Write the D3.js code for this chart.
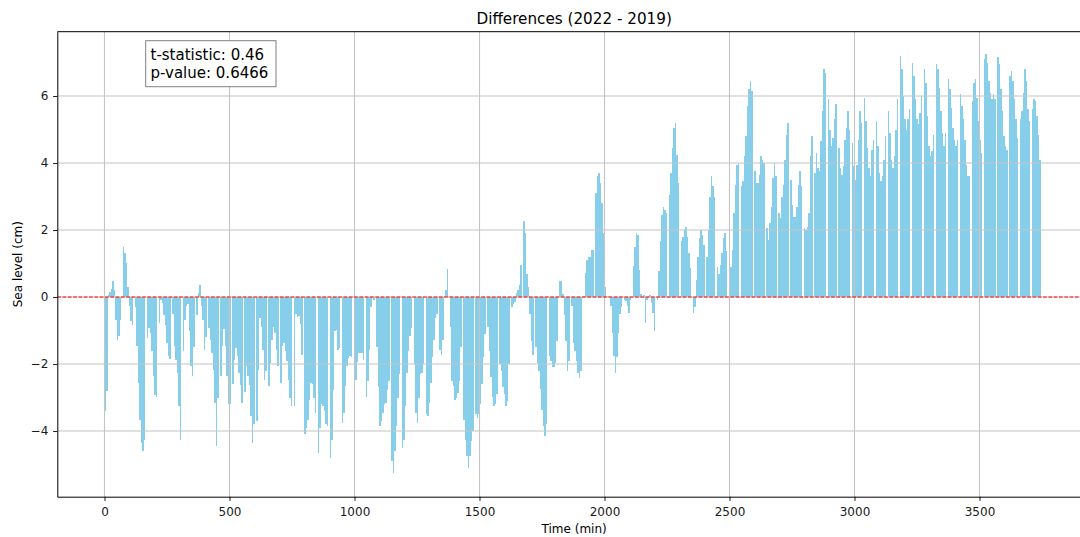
<!DOCTYPE html>
<html>
<head>
<meta charset="utf-8">
<script src="https://cdn.jsdelivr.net/npm/d3@7"></script>
<style>
  body { margin: 0; background: #ffffff; }
  svg { display: block; font-family: "DejaVu Sans", sans-serif; }
</style>
</head>
<body>
<svg id="chart" width="1080" height="537"></svg>
<script>
// Sea-level difference (2022 minus 2019), in cm, sampled every STEP_MIN minutes.
// null = no record for that interval.
const STEP_MIN = 6;

const diffPart1 = [
  -3.4, -2.8, 0.05, 0.15, 0.24, 0.47, 0.2, -0.7, -1.27, -1.17, -0.68, null,
  1.49, 1.3, 1.03, 0.3, -0.28, -0.73, -0.83, null,
  -0.3, -1.47, -2.57, -3.66, -4.36, -4.6, -4.26, null,
  -1.22, -0.93, -1.07, -1.62, -2.37, -2.92, -2.97, null,
  -0.78, -0.08, -0.18, -0.53, -0.83, -1.37, -1.77, -1.85, null,
  -0.5, -1.47, -1.87, -2.27, -3.26, -4.26, null,
  -1.62, -0.68, -0.28, -0.2, -1.0, -2.07, -2.37, -1.5, null,
  -0.53, 0.12, 0.37, -0.28, -0.68, -1.57, -1.2, null,
  -0.93, -1.27, -1.67, -2.17, -3.16, -4.46, -3.0, null,
  -2.37, -1.47, -0.96, -1.47, -2.37, -3.2, -3.2, null,
  -2.6, -1.87, -1.52, -1.77, -2.27, -2.62, -3.16, null,
  -2.82, -2.07, -2.37, -2.62, -3.56, -4.36, -3.8, null,
  -3.7, -2.17, -0.63, -0.88, -1.57, -2.47, -2.2, null,
  -2.67, -1.97, -1.27, -0.88, -1.07, -1.57, -2.07, null,
  -2.57, -1.47, -1.37, -1.6, -1.9, -2.47, -3.0, -3.26, null,
  -3.26, -0.5, -0.6, -0.56, -0.8, -1.72, null,
  -4.1, -3.9, -3.66, -3.06, -2.57, -2.6, -3.0, -3.46, null,
  -4.66, -3.9, -3.2, -3.26, -3.4, -3.8, -3.86, null,
  -4.8, -4.26, -2.77, -1.02, -0.97, -1.57, -1.52, null
];

const diffPart2 = [
  -3.76, -3.46, -2.67, -2.07, -1.82, -1.77, -1.8, null,
  -3.26, -2.47, -1.95, -1.67, -1.67, -1.67, -1.87, null,
  -2.97, -2.5, -1.57, -0.3, 0.02, -0.1, null,
  -1.5, -2.7, -3.86, -3.7, -3.46, -3.2, -3.16, -2.77, -2.5, null,
  -4.9, -5.25, -4.6, -3.86, -3.0, -2.3, null,
  -4.5, -4.26, -3.26, -2.27, -1.6, -1.17, -0.93, null,
  -2.0, -3.46, -3.76, -3.0, -2.3, -2.27, -2.0, null,
  -3.5, -3.56, -3.16, -2.57, -1.8, -1.27, -0.63, -0.5, null,
  -1.57, -1.72, -1.27, 0.02, 0.22, 0.84, null,
  -0.9, -2.5, -2.67, -3.06, -3.0, -2.87, -2.5, -1.5, null,
  -3.66, -4.26, -4.76, -5.1, -4.76, -4.3, -4.0, null,
  -3.5, -3.6, -3.5, -3.2, -2.6, -1.8, -1.1, null,
  -0.9, -1.6, -2.4, -2.97, -3.26, -3.2, -2.9, null,
  -2.0, -2.2, -2.7, -2.9, -3.26, -3.1, -2.0, null,
  -0.3, -0.2, -0.15, 0.12, 0.2, 0.37, 0.97, null, 2.26, 1.9, 0.7, 0.3, -0.5, -1.32, -1.72, null,
  -1.5, -1.97, -2.2, -2.75, -3.36, -3.86, -4.16, -3.8, null,
  -1.77, -1.9, -2.1, -2.1, -1.97, -1.3, null, 0.47, 0.47, 0.1, -0.53, -1.32, -2.2, -1.9, null,
  -0.28, -1.37, -1.6, -1.9, -2.27, -2.42, -2.2, null
];

const diffPart3 = [
  0.02, 0.72, 1.1, 1.2, 1.2, 1.4, 1.4, null,
  3.1, 3.6, 3.7, 3.4, 2.8, 1.9, 0.3, null,
  0.02, null, -0.28, -1.07, -1.77, -2.27, -1.8, -1.07, -0.5, -0.3, null,
  -0.08, -0.12, -0.28, -0.48, -0.1, null, 0.92, 1.5, 1.9, 1.85, 0.8, 0.1, null,
  0.05, -0.78, -0.08, 0.02, 0.07, -0.18, -0.48, -1.02, null,
  -0.08, 0.77, 1.66, 2.46, 2.7, 2.6, 2.5, null,
  3.05, 3.7, 4.45, 5.05, 5.2, 4.25, 3.4, null,
  1.66, 1.8, 2.0, 2.1, 1.8, 1.3, 0.87, null,
  -0.48, -0.3, 0.5, 1.2, 1.76, 2.0, 1.86, 1.56, null,
  1.2, 2.0, 3.0, 3.6, 3.3, 3.0, null,
  0.9, 0.7, 0.96, 1.3, 1.76, 1.9, 1.36, null,
  0.3, 0.9, 1.4, 2.5, 3.35, 3.95, 4.0, null,
  3.3, 3.45, 4.2, 4.8, 5.7, 6.2, 6.45, 6.15, null,
  3.75, 3.4, 3.4, 3.65, 4.2, 4.1, 4.0, null,
  2.05, 1.7, 2.2, 2.7, 3.55, 4.0, 3.6, null,
  2.5, 2.35, 3.0, 3.35, 4.1, 4.85, 5.2, null,
  3.5, 2.75, 2.4, 2.4, 2.7, 3.35, 3.75, 3.3, null,
  2.05, 2.0, 2.1, 2.5, 4.2, 4.8, null
];

const diffPart4 = [
  3.7, 4.3, 3.85, 3.75, 4.65, 5.55, 6.8, 6.7, null,
  5.9, 5.0, 4.5, 4.75, 5.3, 5.75, null,
  4.45, 3.85, 3.65, 3.9, 4.7, 5.05, 5.55, 5.0, null,
  4.6, 3.9, 3.5, 3.95, 4.7, 5.55, 5.2, null,
  5.95, 5.25, 4.45, 3.85, 3.6, 4.4, 4.7, null,
  5.25, 4.5, 3.7, 3.45, 3.6, 4.1, 4.8, null,
  5.55, 4.9, 4.1, 3.85, 4.2, 5.0, 5.9, null,
  7.2, 6.8, 6.0, 5.3, 5.0, 5.3, 5.6, null,
  7.0, 6.6, 5.9, 5.3, 5.15, 5.5, 6.0, null,
  6.8, 6.4, 5.4, 4.5, 4.2, 4.35, 4.85, null,
  6.95, 6.8, 6.25, 5.55, 4.9, 4.5, 4.9, null,
  6.5, 6.2, 5.65, 5.05, 4.7, 4.5, 4.7, null,
  6.05, 5.7, 5.3, 4.7, 3.95, 3.6, 3.6, null,
  5.85, 6.4, 6.5, 5.95, 5.25, 4.7, 4.3, null,
  7.1, 7.25, 7.0, 6.45, 6.1, 5.9, 6.05, 5.9, null,
  7.15, 6.95, 6.2, 5.55, 4.8, 4.5, 4.4, null,
  6.6, 6.75, 6.45, 5.9, 5.3, 4.75, null,
  5.3, 5.55, 6.1, 6.8, 6.45, 5.6, 5.25, null,
  5.6, 5.9, 5.85, 5.4, 4.85, 4.1
];

const seaLevelDiff = [...diffPart1, ...diffPart2, ...diffPart3, ...diffPart4];

const xTickValues = [0, 500, 1000, 1500, 2000, 2500, 3000, 3500];
const yTickValues = [-4, -2, 0, 2, 4, 6];
const titleText = "Differences (2022 - 2019)";
const xLabel = "Time (min)";
const yLabel = "Sea level (cm)";
const statsLines = ["t-statistic: 0.46", "p-value: 0.6466"];

// ---- layout ----
const svg = d3.select("#chart");
const plot = { left: 57.3, top: 31.7, right: 1091, bottom: 496.7 };

const x = d3.scaleLinear().domain([-188.8, 3946]).range([plot.left, plot.right]);
const y = d3.scaleLinear().domain([-5.96, 7.92]).range([plot.bottom, plot.top]);

svg.append("defs").append("clipPath").attr("id", "plot-area")
  .append("rect")
  .attr("x", plot.left).attr("y", plot.top)
  .attr("width", plot.right - plot.left).attr("height", plot.bottom - plot.top);

const body = svg.append("g").attr("clip-path", "url(#plot-area)");

// bars
const records = seaLevelDiff
  .map((v, i) => ({ t: i * STEP_MIN, v }))
  .filter(d => d.v !== null);

body.append("g").selectAll("rect")
  .data(records)
  .join("rect")
  .attr("x", d => x(d.t))
  .attr("width", d => x(d.t + STEP_MIN) - x(d.t))
  .attr("y", d => y(Math.max(0, d.v)))
  .attr("height", d => Math.abs(y(d.v) - y(0)))
  .attr("fill", "#87ceeb")
  .attr("shape-rendering", "crispEdges");

// grid (drawn above the bars)
const grid = body.append("g").attr("stroke", "#c4c4c4").attr("stroke-width", 1.1);
grid.selectAll("line.vx").data(xTickValues).join("line")
  .attr("x1", d => x(d)).attr("x2", d => x(d))
  .attr("y1", plot.top).attr("y2", plot.bottom);
grid.selectAll("line.hy").data(yTickValues).join("line")
  .attr("x1", plot.left).attr("x2", plot.right)
  .attr("y1", d => y(d)).attr("y2", d => y(d));

// zero reference line
body.append("line")
  .attr("x1", plot.left).attr("x2", plot.right)
  .attr("y1", y(0)).attr("y2", y(0))
  .attr("stroke", "#ff0000").attr("stroke-width", 1)
  .attr("stroke-dasharray", "3.7,1.6");

// axes
const xAxis = svg.append("g")
  .attr("transform", `translate(0,${plot.bottom})`)
  .call(d3.axisBottom(x).tickValues(xTickValues).tickFormat(d3.format("d"))
    .tickSize(4.2).tickSizeOuter(0).tickPadding(6.1));
const yAxis = svg.append("g")
  .attr("transform", `translate(${plot.left},0)`)
  .call(d3.axisLeft(y).tickValues(yTickValues).tickFormat(d3.format("d"))
    .tickSize(4.2).tickSizeOuter(0).tickPadding(4.8));

[xAxis, yAxis].forEach(a => {
  a.selectAll("path.domain").attr("stroke", "#000").attr("stroke-width", 1);
  a.selectAll(".tick line").attr("stroke", "#000").attr("stroke-width", 0.9);
  a.selectAll(".tick text").attr("font-size", 12).attr("fill", "#1a1a1a")
    .attr("font-family", "DejaVu Sans, sans-serif");
});

// top spine
svg.append("line")
  .attr("x1", plot.left).attr("x2", plot.right)
  .attr("y1", plot.top).attr("y2", plot.top)
  .attr("stroke", "#000").attr("stroke-width", 1);

// title and axis labels
const midX = (plot.left + plot.right) / 2;
svg.append("text")
  .attr("x", midX).attr("y", 24)
  .attr("text-anchor", "middle").attr("font-size", 15.2).attr("fill", "#000")
  .text(titleText);

svg.append("text")
  .attr("x", midX).attr("y", 533)
  .attr("text-anchor", "middle").attr("font-size", 12).attr("fill", "#000")
  .text(xLabel);

svg.append("text")
  .attr("transform", `translate(21.5,${(plot.top + plot.bottom) / 2}) rotate(-90)`)
  .attr("text-anchor", "middle").attr("font-size", 12).attr("fill", "#000")
  .text(yLabel);

// statistics box
const statBox = svg.append("g");
statBox.append("rect")
  .attr("x", 145.7).attr("y", 40.7).attr("width", 130.3).attr("height", 46)
  .attr("fill", "#ffffff").attr("stroke", "#808080").attr("stroke-width", 1);
statBox.selectAll("text").data(statsLines).join("text")
  .attr("x", 150.5)
  .attr("y", (d, i) => 60 + i * 18.3)
  .attr("font-size", 15).attr("fill", "#000")
  .text(d => d);
</script>
</body>
</html>
